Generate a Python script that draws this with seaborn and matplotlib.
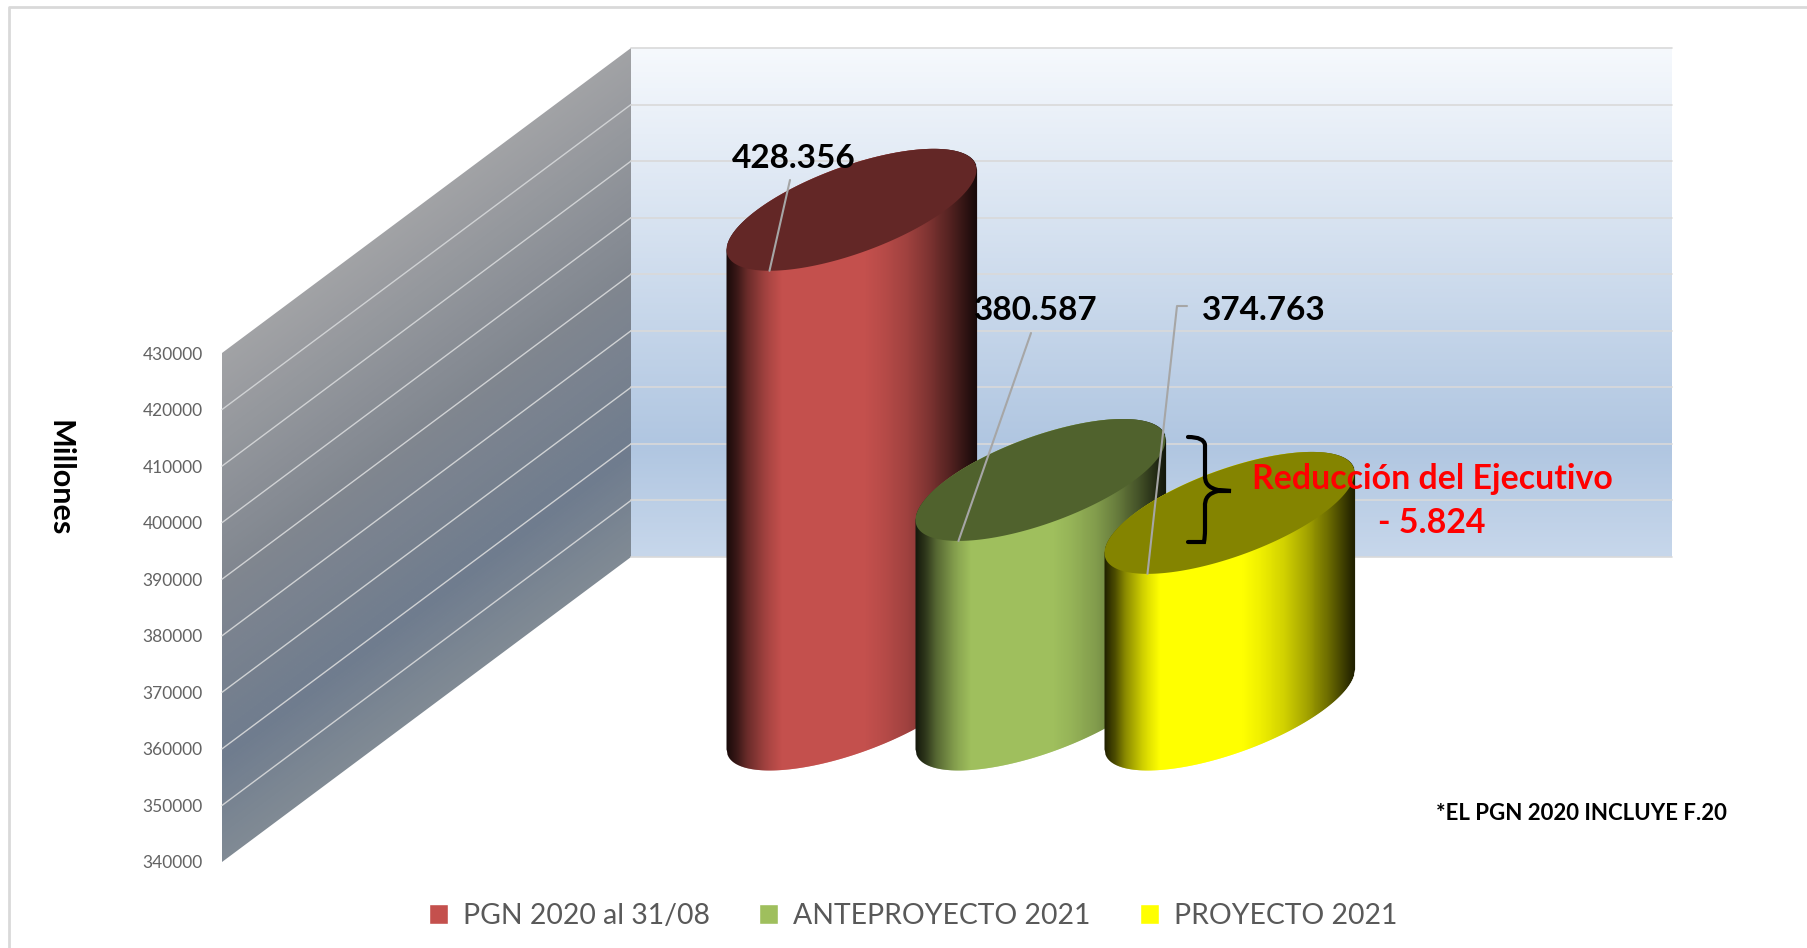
import numpy as np
import pandas as pd
import seaborn as sns
import matplotlib
matplotlib.use("Agg")
import matplotlib.pyplot as plt
from matplotlib.collections import PolyCollection
from matplotlib.colors import LinearSegmentedColormap, to_rgb
from matplotlib.path import Path
from matplotlib.patches import PathPatch

# ---------- datos ---------- #
categorias = ["PGN 2020 al 31/08", "ANTEPROYECTO 2021", "PROYECTO 2021"]
valores = [428356, 380587, 374763]
etiquetas = ["428.356", "380.587", "374.763"]
colores = ["#c4504d", "#9fbf5d", "#ffff00"]
colores_tapa = ["#632726", "#50622d", "#848400"]
ticks_y = [340000, 350000, 360000, 370000, 380000, 390000, 400000, 410000, 420000, 430000]
# --------------------------- #

W, H = 1808, 948
# desplazamiento de la pared del fondo respecto al plano frontal, en pixeles
DX, DY = 409, 305
PROF_BARRA = 0.5
# elipse de la tapa
EJE_A, EJE_B, EJE_C = 125, 46, 40

sns.set_theme(style="white")
plt.rcParams["font.family"] = ["Lato", "DejaVu Sans"]

fig = plt.figure(figsize=(W / 100, H / 100), dpi=100, facecolor="white")

# lienzo en pixeles, para el dibujo 3D
lienzo = fig.add_axes([0, 0, 1, 1], zorder=0)
lienzo.set_xlim(0, W)
lienzo.set_ylim(H, 0)
lienzo.axis("off")

# ejes reales: el plano frontal del grafico
ax = fig.add_axes([222 / W, (H - 862) / H, 1041 / W, 509 / H], zorder=1)
ax.patch.set_visible(False)

df = pd.DataFrame({"categoria": categorias, "valor": valores})
sns.barplot(data=df, x="categoria", y="valor", hue="categoria", hue_order=categorias,
            order=categorias, palette=colores, saturation=1, width=1.3228, dodge=False,
            legend=True, ax=ax)
ax.set_ylim(ticks_y[0], ticks_y[-1])
ax.set_xlim(-2.2487, 3.2593)
ax.set_xticks([])
ax.set_xlabel("")
ax.set_yticks(ticks_y)
ax.tick_params(axis="y", length=0, pad=14, labelsize=12.5, labelcolor="#636363")
ax.set_ylabel("Millones", rotation=270, fontsize=22, fontweight="bold", color="black")
ax.yaxis.set_label_coords(-0.17, 0.754)
sns.despine(ax=ax, left=True, bottom=True)


def a_px(x, v, prof=0.0):
    d = ax.transData.transform((x, v))
    return d[0] + prof * DX, H - d[1] - prof * DY


# pared del fondo
xf0, y_fondo_base = a_px(ax.get_xlim()[0], ticks_y[0], 1)
xf1, y_fondo_tope = a_px(ax.get_xlim()[1], ticks_y[-1], 1)
mapa_fondo = LinearSegmentedColormap.from_list(
    "fondo", [(0, "#f6f9fd"), (0.78, "#b0c6e1"), (1, "#c7d7eb")])
lienzo.imshow(np.linspace(0, 1, 256).reshape(-1, 1), cmap=mapa_fondo, aspect="auto",
              extent=(xf0, xf1, y_fondo_base, y_fondo_tope), zorder=1)
lienzo.set_xlim(0, W)
lienzo.set_ylim(H, 0)

# pared lateral, por bandas paralelas a sus lineas
xl = a_px(ax.get_xlim()[0], ticks_y[0])[0]
yl_base = a_px(ax.get_xlim()[0], ticks_y[0])[1]
yl_tope = a_px(ax.get_xlim()[0], ticks_y[-1])[1]
mapa_lado = LinearSegmentedColormap.from_list(
    "lado", [(0, "#a1a2a5"), (0.45, "#80868f"), (0.8, "#6f7c8e"), (1, "#808a94")])
cortes = np.linspace(yl_tope, yl_base, 200)
bandas = [[(xl, a), (xf0, a - DY), (xf0, min(b + 1, yl_base) - DY), (xl, min(b + 1, yl_base))]
          for a, b in zip(cortes[:-1], cortes[1:])]
lienzo.add_collection(PolyCollection(bandas, facecolors=mapa_lado(np.linspace(0, 1, 199)),
                                     linewidths=0, zorder=2))

# lineas de division
for v in ticks_y:
    x0, y0 = a_px(ax.get_xlim()[0], v)
    x1, y1 = a_px(ax.get_xlim()[0], v, 1)
    x2, y2 = a_px(ax.get_xlim()[1], v, 1)
    lienzo.plot([x1, x2], [y1, y2], color="#d9d9d9", lw=1.2, zorder=3)
    if v != ticks_y[0] and v != ticks_y[-1]:
        lienzo.plot([x0, x1], [y0, y1], color="#d0d2d4", lw=1.0, zorder=3)

# sombreado horizontal de los cilindros
pos_sombra = [0, 0.04, 0.08, 0.15, 0.22, 0.55, 0.62, 0.72, 0.8, 0.89, 0.98, 1]
luz_sombra = [0.13, 0.3, 0.54, 0.82, 1, 1, 0.94, 0.82, 0.66, 0.44, 0.17, 0.12]

# las barras de seaborn dan la posicion y el alto de cada cilindro
barras = []
for cont in ax.containers:
    for b in cont:
        if np.isfinite(b.get_height()) and b.get_height() > 0:
            barras.append(b)
barras.sort(key=lambda b: b.get_x())

puntas = []
for i, b in enumerate(barras):
    centro = b.get_x() + b.get_width() / 2
    cx, cy_tope = a_px(centro, b.get_height(), PROF_BARRA)
    _, cy_base = a_px(centro, ticks_y[0], PROF_BARRA)
    b.set_visible(False)

    base = np.array(to_rgb(colores[i]))
    mapa = LinearSegmentedColormap.from_list(
        "cil", [(p, tuple(base * l)) for p, l in zip(pos_sombra, luz_sombra)])
    xs = np.linspace(cx - EJE_A, cx + EJE_A, 2 * EJE_A + 1)
    cos_t = (xs - cx) / EJE_A
    sen_t = np.sqrt(1 - cos_t ** 2)
    arriba = cy_tope - EJE_C * cos_t - EJE_B * sen_t
    abajo = cy_base - EJE_C * cos_t + EJE_B * sen_t
    tiras = [[(xs[k], arriba[k]), (xs[k + 1] + 0.6, arriba[k + 1]),
              (xs[k + 1] + 0.6, abajo[k + 1]), (xs[k], abajo[k])] for k in range(len(xs) - 1)]
    lienzo.add_collection(PolyCollection(tiras, facecolors=mapa((xs[:-1] - xs[0]) / (xs[-1] - xs[0])),
                                         linewidths=0, zorder=5 + 2 * i))
    # tapa
    t = np.linspace(0, 2 * np.pi, 240)
    tapa = np.column_stack([cx + EJE_A * np.cos(t), cy_tope - EJE_C * np.cos(t) + EJE_B * np.sin(t)])
    lienzo.fill(tapa[:, 0], tapa[:, 1], color=colores_tapa[i], lw=0, zorder=6 + 2 * i)
    # punto mas bajo de la tapa, donde llega la linea de la etiqueta
    rad = np.hypot(EJE_B, EJE_C)
    puntas.append((cx - EJE_A * EJE_C / rad, cy_tope + rad))

# lineas guia y etiquetas
GRIS = "#a6a6a6"
inicio_guia = [[(790, 180)], [(1031, 333)], [(1187, 306), (1177, 306)]]
pos_etiqueta = [(794, 158), (1036, 310), (1264, 310)]
for i in range(3):
    pts = inicio_guia[i] + [puntas[i]]
    lienzo.plot([p[0] for p in pts], [p[1] for p in pts], color=GRIS, lw=1.5, zorder=20)
    lienzo.text(pos_etiqueta[i][0], pos_etiqueta[i][1], etiquetas[i], ha="center", va="center",
                fontsize=24, fontweight="bold", color="black", zorder=21)

# llave de la reduccion
llave = Path([(1188, 437), (1204, 437), (1205, 445), (1205, 455),
              (1205, 475), (1204, 487), (1218, 490), (1231, 491),
              (1218, 491), (1204, 494), (1205, 507), (1205, 530),
              (1205, 537), (1204, 542), (1188, 542)],
             [Path.MOVETO, Path.CURVE3, Path.CURVE3, Path.LINETO,
              Path.LINETO, Path.CURVE3, Path.CURVE3, Path.LINETO,
              Path.LINETO, Path.CURVE3, Path.CURVE3, Path.LINETO,
              Path.CURVE3, Path.CURVE3, Path.LINETO])
lienzo.add_patch(PathPatch(llave, fc="none", ec="black", lw=3, zorder=22, capstyle="round"))

lienzo.text(1432, 479, "Reducción del Ejecutivo", ha="center", va="center", fontsize=24.4,
            fontweight="bold", color="#ff0000", zorder=23)
lienzo.text(1432, 523, "- 5.824", ha="center", va="center", fontsize=24.4,
            fontweight="bold", color="#ff0000", zorder=23)
lienzo.text(1581, 813, "*EL PGN 2020 INCLUYE F.20", ha="center", va="center", fontsize=16,
            fontweight="bold", color="black", zorder=23)

# marco exterior
lienzo.plot([9, 9, W], [H, 7, 7], color="#d9d9d9", lw=2, zorder=0.5)

# leyenda
sns.move_legend(ax, loc="center", bbox_to_anchor=((913 - 222) / 1041, (862 - 916) / 509),
                ncol=3, frameon=False, title=None, fontsize=20.4, labelcolor="#595959",
                handlelength=0.67, handleheight=0.67, handletextpad=0.55, columnspacing=1.72)

fig.savefig("out.png", dpi=100, facecolor="white")
